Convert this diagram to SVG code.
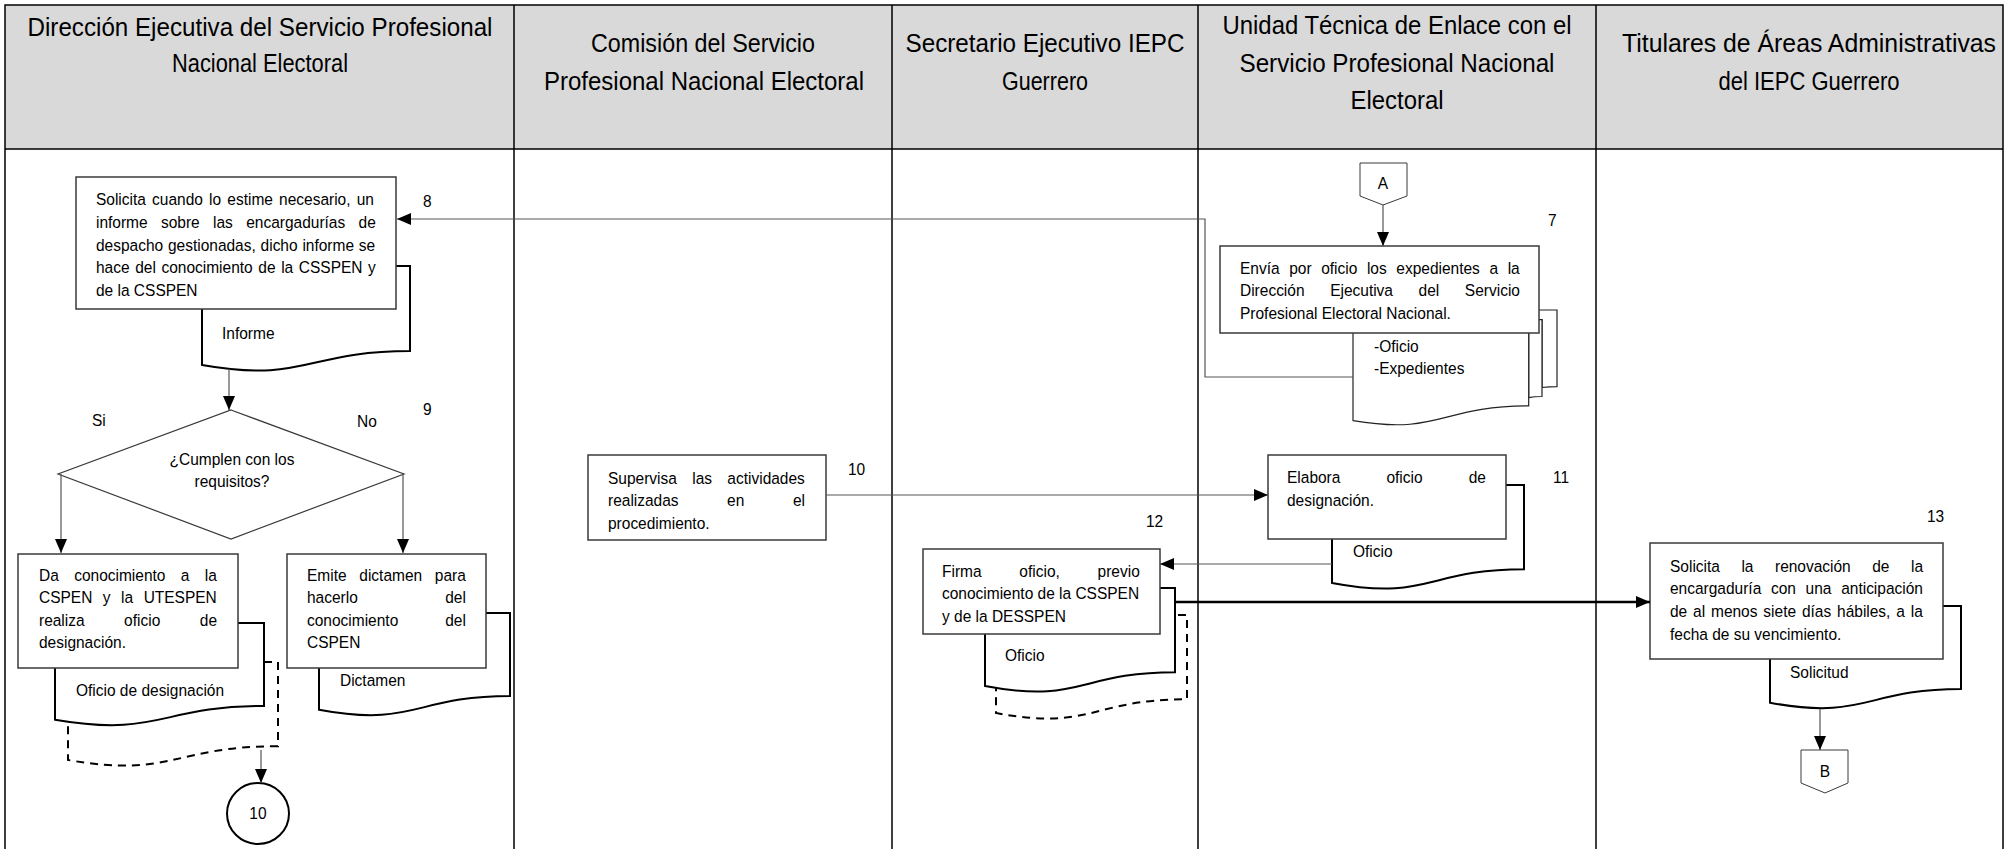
<svg xmlns="http://www.w3.org/2000/svg" width="2007" height="849" viewBox="0 0 2007 849">
<defs>
<style>
text { font-family: "Liberation Sans", Arial, sans-serif; fill: #000; }
.h { font-size: 25px; text-anchor: middle; }
.t { font-size: 17px; }
.c { text-anchor: middle; }
.lane { stroke: #000; stroke-width: 1.5; fill: none; }
.box { fill: #fff; stroke: #3a3a3a; stroke-width: 1.5; }
.doc { fill: #fff; stroke: #000; stroke-width: 2; }
.dash { fill: #fff; stroke: #000; stroke-width: 2; stroke-dasharray: 8 6; }
.mdoc { fill: #fff; stroke: #222; stroke-width: 1.2; }
.ln { fill: none; stroke: #555; stroke-width: 1.2; }
.thick { fill: none; stroke: #000; stroke-width: 2.5; }
</style>
<marker id="arr" markerUnits="userSpaceOnUse" markerWidth="14" markerHeight="12" refX="14" refY="6" orient="auto">
<path d="M0,0 L14,6 L0,12 Z" fill="#000"/>
</marker>
</defs>
<rect width="2007" height="849" fill="#fff"/>
<g id="lanes">
<rect x="5" y="5" width="1998" height="144" fill="#d9d9d9"/>
<path class="lane" d="M5,849 V5 H2003 V849 M5,149 H2003 M514,5 V849 M892,5 V849 M1198,5 V849 M1596,5 V849"/>
<text class="h" x="260" y="36" textLength="465" lengthAdjust="spacingAndGlyphs">Dirección Ejecutiva del Servicio Profesional</text>
<text class="h" x="260" y="72" textLength="176" lengthAdjust="spacingAndGlyphs">Nacional Electoral</text>
<text class="h" x="703" y="52" textLength="224" lengthAdjust="spacingAndGlyphs">Comisión del Servicio</text>
<text class="h" x="704" y="90" textLength="320" lengthAdjust="spacingAndGlyphs">Profesional Nacional Electoral</text>
<text class="h" x="1045" y="52" textLength="279" lengthAdjust="spacingAndGlyphs">Secretario Ejecutivo IEPC</text>
<text class="h" x="1045" y="90" textLength="86" lengthAdjust="spacingAndGlyphs">Guerrero</text>
<text class="h" x="1397" y="34" textLength="349" lengthAdjust="spacingAndGlyphs">Unidad Técnica de Enlace con el</text>
<text class="h" x="1397" y="71.5" textLength="315" lengthAdjust="spacingAndGlyphs">Servicio Profesional Nacional</text>
<text class="h" x="1397" y="109" textLength="93" lengthAdjust="spacingAndGlyphs">Electoral</text>
<text class="h" x="1809" y="52" textLength="374" lengthAdjust="spacingAndGlyphs">Titulares de Áreas Administrativas</text>
<text class="h" x="1809" y="90" textLength="181" lengthAdjust="spacingAndGlyphs">del IEPC Guerrero</text>
</g>

<g id="node-A">
<path class="box" d="M1360,163 H1407 V196 L1383,205 L1360,196 Z" style="stroke-width:1"/>
<text class="t c" x="1383" y="189" transform="matrix(0.912 0 0 1 121.7 0)">A</text>
</g>

<g id="node-7">
<path class="mdoc" d="M1381,319.7 V310 H1557 V386.6 C1549,386.6 1542,387.5 1542,387.5 V319.7 Z"/>
<path class="mdoc" d="M1367.5,329.6 V319.7 H1542 V396.5 C1534,396.5 1528.7,397.6 1528.7,397.6 V329.6 Z"/>
<path class="mdoc" d="M1353,420.6 C1440.7,435.4 1440.7,405.9 1528.7,405.9 V329.6 H1353 Z"/>
<rect class="box" x="1220" y="246" width="319" height="87"/>
<g transform="matrix(0.912 0 0 1 109.12 0)">
<text class="t" x="1240" y="274" style="word-spacing:5.81px">Envía por oficio los expedientes a la</text>
<text class="t" x="1240" y="296" style="word-spacing:23.36px">Dirección Ejecutiva del Servicio</text>
<text class="t" x="1240" y="319">Profesional Electoral Nacional.</text>
</g>
<g transform="matrix(0.912 0 0 1 120.91 0)">
<text class="t" x="1374" y="352">-Oficio</text>
<text class="t" x="1374" y="374">-Expedientes</text>
</g>
<text class="t" x="1548" y="226" transform="matrix(0.912 0 0 1 136.22 0)">7</text>
</g>

<g id="node-8">
<path class="doc" d="M202,266 H410 V351 C306,351 306,383.3 202,365 Z"/>
<rect class="box" x="76" y="177" width="320" height="132"/>
<g transform="matrix(0.912 0 0 1 8.448 0)">
<text class="t" x="96" y="205" style="word-spacing:2.05px">Solicita cuando lo estime necesario, un</text>
<text class="t" x="96" y="228" style="word-spacing:9.92px">informe sobre las encargadurías de</text>
<text class="t" x="96" y="251" style="word-spacing:0.55px">despacho gestionadas, dicho informe se</text>
<text class="t" x="96" y="273" style="word-spacing:1.43px">hace del conocimiento de la CSSPEN y</text>
<text class="t" x="96" y="296">de la CSSPEN</text>
</g>
<text class="t" x="222" y="339" transform="matrix(0.912 0 0 1 19.54 0)">Informe</text>
<text class="t" x="423" y="207" transform="matrix(0.912 0 0 1 37.22 0)">8</text>
</g>

<g id="node-9">
<path class="box" d="M231,410 L404,474 L231,539 L58,474 Z" style="stroke-width:1.2"/>
<g transform="matrix(0.912 0 0 1 20.42 0)">
<text class="t c" x="232" y="465">¿Cumplen con los</text>
<text class="t c" x="232" y="487">requisitos?</text>
</g>
<text class="t" x="92" y="426" transform="matrix(0.912 0 0 1 8.1 0)">Si</text>
<text class="t" x="357" y="427" transform="matrix(0.912 0 0 1 31.42 0)">No</text>
<text class="t" x="423" y="415" transform="matrix(0.912 0 0 1 37.22 0)">9</text>
</g>

<g id="node-9-si">
<path class="dash" d="M68,662 H278 V746.2 C173,746.2 173,778.2 68,760 Z"/>
<path class="doc" d="M55,623 H264 V706 C159.5,706 159.5,737.6 55,719.7 Z"/>
<rect class="box" x="18" y="554" width="220" height="114"/>
<g transform="matrix(0.912 0 0 1 3.432 0)">
<text class="t" x="39" y="581" style="word-spacing:12.17px">Da conocimiento a la</text>
<text class="t" x="39" y="603" style="word-spacing:6.8px">CSPEN y la UTESPEN</text>
<text class="t" x="39" y="626" style="word-spacing:38.6px">realiza oficio de</text>
<text class="t" x="39" y="648">designación.</text>
</g>
<text class="t" x="76" y="696" transform="matrix(0.912 0 0 1 6.69 0)">Oficio de designación</text>
</g>

<g id="node-9-no">
<path class="doc" d="M319,613 H510 V696 C414.5,696 414.5,727.6 319,709.7 Z"/>
<rect class="box" x="287" y="554" width="199" height="114"/>
<g transform="matrix(0.912 0 0 1 27.016 0)">
<text class="t" x="307" y="581" style="word-spacing:9.21px">Emite dictamen para</text>
<text class="t" x="307" y="603" style="word-spacing:91.2px">hacerlo del</text>
<text class="t" x="307" y="626" style="word-spacing:46.8px">conocimiento del</text>
<text class="t" x="307" y="648">CSPEN</text>
</g>
<text class="t" x="340" y="686" transform="matrix(0.912 0 0 1 29.92 0)">Dictamen</text>
</g>

<g id="node-conn-10">
<ellipse cx="258" cy="813.5" rx="31" ry="30.5" fill="#fff" stroke="#000" stroke-width="2"/>
<text class="t c" x="258" y="819" transform="matrix(0.912 0 0 1 22.7 0)">10</text>
</g>

<g id="node-10">
<rect class="box" x="588" y="455" width="238" height="85"/>
<g transform="matrix(0.912 0 0 1 53.504 0)">
<text class="t" x="608" y="484" style="word-spacing:12.12px">Supervisa las actividades</text>
<text class="t" x="608" y="506" style="word-spacing:48.5px">realizadas en el</text>
<text class="t" x="608" y="529">procedimiento.</text>
</g>
<text class="t" x="848" y="475" transform="matrix(0.912 0 0 1 74.62 0)">10</text>
</g>

<g id="node-11">
<path class="doc" d="M1332,485 H1524 V569.2 C1428,569.2 1428,601.2 1332,583 Z"/>
<rect class="box" x="1268" y="455" width="238" height="84"/>
<g transform="matrix(0.912 0 0 1 113.256 0)">
<text class="t" x="1287" y="483" style="word-spacing:45.8px">Elabora oficio de</text>
<text class="t" x="1287" y="506">designación.</text>
</g>
<text class="t" x="1353" y="557" transform="matrix(0.912 0 0 1 119.06 0)">Oficio</text>
<text class="t" x="1553" y="483" transform="matrix(0.912 0 0 1 136.66 0)">11</text>
</g>

<g id="node-12">
<path class="dash" d="M996,615 H1187 V699.2 C1091.5,699.2 1091.5,731.2 996,713 Z"/>
<path class="doc" d="M985,588 H1175 V672.2 C1080,672.2 1080,704.2 985,686 Z"/>
<rect class="box" x="923" y="549" width="237" height="85"/>
<g transform="matrix(0.912 0 0 1 82.896 0)">
<text class="t" x="942" y="577" style="word-spacing:36.7px">Firma oficio, previo</text>
<text class="t" x="942" y="599">conocimiento de la CSSPEN</text>
<text class="t" x="942" y="622">y de la DESSPEN</text>
</g>
<text class="t" x="1005" y="661" transform="matrix(0.912 0 0 1 88.44 0)">Oficio</text>
<text class="t" x="1146" y="527" transform="matrix(0.912 0 0 1 100.85 0)">12</text>
</g>

<g id="node-13">
<path class="doc" d="M1770,606 H1961 V689 C1865.5,689 1865.5,720.6 1770,702.7 Z"/>
<rect class="box" x="1650" y="543" width="293" height="116"/>
<g transform="matrix(0.912 0 0 1 146.96 0)">
<text class="t" x="1670" y="572" style="word-spacing:18.86px">Solicita la renovación de la</text>
<text class="t" x="1670" y="594" style="word-spacing:5.92px">encargaduría con una anticipación</text>
<text class="t" x="1670" y="617" style="word-spacing:1.71px">de al menos siete días hábiles, a la</text>
<text class="t" x="1670" y="640">fecha de su vencimiento.</text>
</g>
<text class="t" x="1790" y="678" transform="matrix(0.912 0 0 1 157.52 0)">Solicitud</text>
<text class="t" x="1927" y="522" transform="matrix(0.912 0 0 1 169.58 0)">13</text>
</g>

<g id="node-B">
<path class="box" d="M1801,750 H1848 V783 L1825,793 L1801,783 Z" style="stroke-width:1"/>
<text class="t c" x="1825" y="777" transform="matrix(0.912 0 0 1 160.6 0)">B</text>
</g>

<g id="connectors">
<path class="ln" d="M1383,205 V246" marker-end="url(#arr)"/>
<path class="ln" d="M1353,377 H1205 V219 H397" marker-end="url(#arr)"/>
<path class="ln" d="M229,369 V410" marker-end="url(#arr)"/>
<path class="ln" d="M61,474 V553" marker-end="url(#arr)"/>
<path class="ln" d="M403,474 V553" marker-end="url(#arr)"/>
<path class="ln" d="M261,750 V783" marker-end="url(#arr)"/>
<path class="ln" d="M826,495 H1268" marker-end="url(#arr)"/>
<path class="ln" d="M1332,564 H1160" marker-end="url(#arr)"/>
<path class="thick" d="M1176,602 H1650" marker-end="url(#arr)"/>
<path class="ln" d="M1820,709 V750" marker-end="url(#arr)"/>
</g>
</svg>
